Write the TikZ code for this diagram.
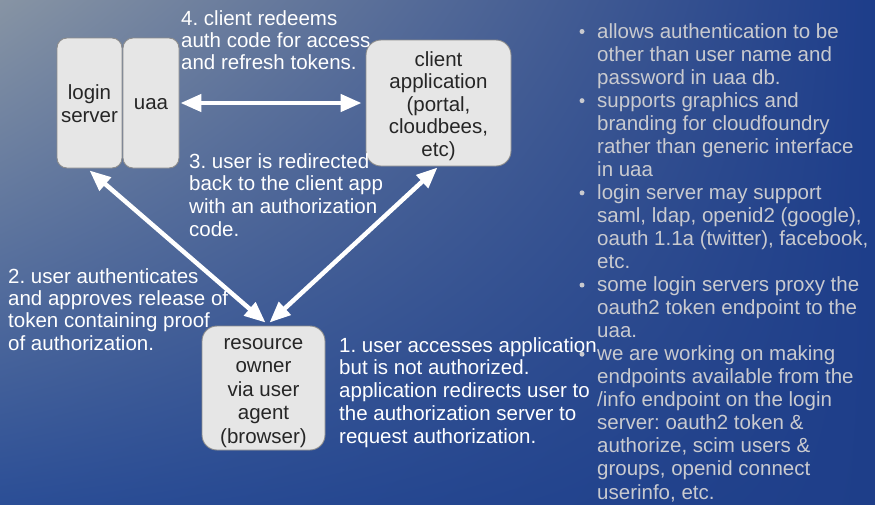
\documentclass[tikz,border=0pt]{standalone}
\usepackage{fontspec}
\setmainfont{Liberation Sans}
\usetikzlibrary{arrows.meta,shadings}
\definecolor{boxfill}{HTML}{E6E6E6}
\definecolor{boxline}{HTML}{8C8C8C}
\definecolor{boxtext}{HTML}{262626}
\definecolor{sidetext}{HTML}{C9CACF}
\definecolor{bgUL}{HTML}{8794A4}
\definecolor{bgUR}{HTML}{1D3D8A}
\definecolor{bgLL}{HTML}{2B4E96}
\definecolor{bgLR}{HTML}{1E3E89}
\newcommand\mylines[1]{\begin{tabular}[t]{@{}l@{}}#1\end{tabular}}
\newcommand\mycenter[1]{\begin{tabular}{@{}c@{}}#1\end{tabular}}
\frenchspacing
\begin{document}
\frenchspacing
\begin{tikzpicture}[x=1pt,y=-1pt,
  box/.style={draw=boxline, line width=0.9pt, fill=boxfill, rounded corners=10pt, inner sep=0pt},
  boxtxt/.style={inner sep=0pt, text=boxtext},
  txt/.style={inner sep=0pt, text=white, anchor=base west},
  side/.style={inner sep=0pt, text=sidetext, anchor=base west},
  arr/.style={draw=white, line width=4.5pt, >={Triangle[length=21pt,width=17pt]}, <->},
  bul/.style={circle, fill=sidetext, inner sep=0pt, minimum size=5pt}]
\useasboundingbox (0,0) rectangle (875,504);
\shade[upper left=bgUL, upper right=bgUR, lower left=bgLL, lower right=bgLR] (0,0) rectangle (875,504);

% boxes
\node[box, minimum width=65pt, minimum height=130pt] (login) at (89.5,103) {};
\node[box, minimum width=56pt, minimum height=130pt] (uaa) at (151,103) {};
\node[box, rounded corners=15pt, minimum width=145pt, minimum height=126pt] (client) at (438.5,103) {};
\node[box, rounded corners=15pt, minimum width=123pt, minimum height=124pt] (res) at (263.5,388) {};

\node[boxtxt, font=\fontsize{20.5}{23}\selectfont] (loginT) at ([yshift=-3.5pt]login.center) {\mycenter{login\\server}};
\node[boxtxt, font=\fontsize{20.5}{23}\selectfont] (uaaT) at ([yshift=-1.5pt]uaa.center) {uaa};
\node[boxtxt, font=\fontsize{20.5}{22.5}\selectfont] (clientT) at ([yshift=-3.5pt]client.center) {\mycenter{client\\application\\(portal,\\cloudbees,\\etc)}};
\node[boxtxt, font=\fontsize{20.5}{23.5}\selectfont] (resT) at ([yshift=-3.5pt]res.center) {\mycenter{resource\\owner\\via user\\agent\\(browser)}};

% arrows
\draw[arr] ([xshift=1pt]uaa.east) -- ([xshift=-4pt]client.west);
\draw[arr] ([yshift=-2pt]login.south) -- ([xshift=2pt,yshift=3pt]res.north);
\draw[arr] ([xshift=-1pt,yshift=-1pt]client.south) -- ([xshift=6pt,yshift=3pt]res.north);

% step texts
\node[txt, font=\fontsize{20.5}{22}\selectfont] (t4) at (181,25) {\mylines{4. client redeems\\auth code for access\\and refresh tokens.}};
\node[txt, font=\fontsize{20.5}{22.7}\selectfont] (t3) at (189,168) {\mylines{3. user is redirected\\back to the client app\\with an authorization\\code.}};
\node[txt, font=\fontsize{20.5}{22.4}\selectfont] (t2) at (8,283) {\mylines{2. user authenticates\\and approves release of\\token containing proof\\of authorization.}};
\node[txt, font=\fontsize{20.5}{22.75}\selectfont] (t1) at (339,352) {\mylines{1. user accesses application\\but is not authorized.\\application redirects user to\\the authorization server to\\request authorization.}};

% side notes
\node[side, font=\fontsize{20.5}{23.05}\selectfont] (notes) at (597,38) {\mylines{allows authentication to be\\other than user name and\\password in uaa db.\\supports graphics and\\branding for cloudfoundry\\rather than generic interface\\in uaa\\login server may support\\saml, ldap, openid2 (google),\\oauth 1.1a (twitter), facebook,\\etc.\\some login servers proxy the\\oauth2 token endpoint to the\\uaa.\\we are working on making\\endpoints available from the\\/info endpoint on the login\\server: oauth2 token \&\\authorize, scim users \&\\groups, openid connect\\userinfo, etc.}};
\foreach \k/\n in {0/b1,3/b2,7/b3,11/b4,14/b5}
  \node[bul] (\n) at (582,{38+\k*23.05-6.5}) {};
\end{tikzpicture}
\end{document}
